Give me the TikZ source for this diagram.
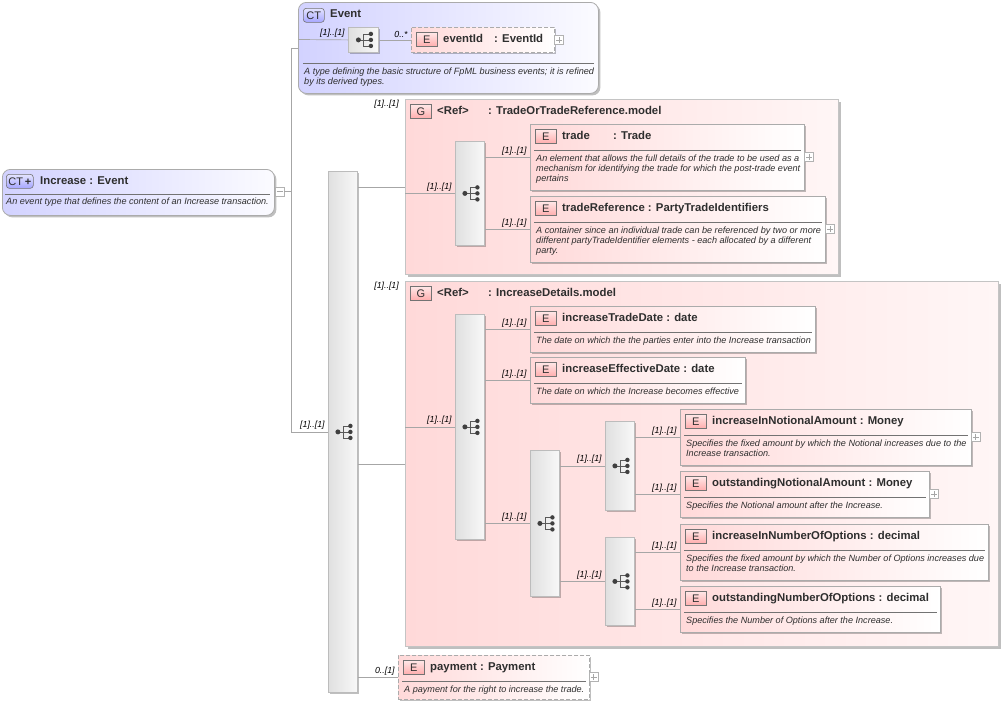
\documentclass[tikz,border=0pt]{standalone}
\usepackage{fontspec}
\setmainfont{Liberation Sans}
\usetikzlibrary{shadows}

\definecolor{boxline}{HTML}{ABABAB}
\definecolor{connline}{HTML}{A6A6A6}
\definecolor{pinkL}{HTML}{FFD9D9}
\definecolor{groupR}{HTML}{FFF6F6}
\definecolor{ctL}{HTML}{D2D2FF}
\definecolor{ctR}{HTML}{FBFBFF}
\definecolor{seqL}{HTML}{E0E0E0}
\definecolor{seqR}{HTML}{F8F8F8}
\definecolor{inktext}{HTML}{2E2E2E}

\tikzset{
  boxshadow/.style={drop shadow={shadow xshift=2pt, shadow yshift=-2pt, fill=black, opacity=.25}},
  boxbase/.style={draw=boxline, line width=.8pt, inner sep=0pt, anchor=north west, boxshadow},
  elemfill/.style={boxbase, left color=pinkL, right color=white},
  elemdash/.style={elemfill, dashed, dash pattern=on 4pt off 2pt},
  groupbox/.style={boxbase, draw=boxline!70, line width=1.2pt, left color=pinkL, right color=groupR},
  ctbox/.style={boxbase, rounded corners=8pt, left color=ctL, right color=ctR},
  seqbox/.style={boxbase, draw=boxline!80, left color=seqL, right color=seqR},
  badge/.style={draw=black!55, line width=.6pt, inner sep=0pt, anchor=north west, minimum width=21pt,
    minimum height=14pt, top color=pinkL!60, bottom color=red!32!white, text=inktext,
    font=\fontsize{11}{12}\selectfont},
  ctbadge/.style={badge, rounded corners=3pt, top color=ctL!60, bottom color=blue!35!white},
  title/.style={anchor=base west, inner sep=0pt, text=inktext, font=\bfseries\fontsize{11.35}{13}\selectfont},
  desc/.style={anchor=north west, inner sep=0pt, align=left, text=inktext, font=\itshape\fontsize{9.1}{10}\selectfont},
  occ/.style={anchor=south east, inner sep=0pt, xshift=-3pt, yshift=2pt, font=\itshape\fontsize{8.8}{10}\selectfont},
  conn/.style={draw=connline, line width=.7pt},
  sep/.style={draw=black!55, line width=.5pt},
  togglebox/.style={draw=black!30, line width=.5pt, fill=white, inner sep=0pt, minimum size=9pt},
  plusbox/.style={togglebox, path picture={
    \draw[black!35, line width=.6pt] ([xshift=-3pt]path picture bounding box.center) -- ([xshift=3pt]path picture bounding box.center);
    \draw[black!35, line width=.6pt] ([yshift=-3pt]path picture bounding box.center) -- ([yshift=3pt]path picture bounding box.center);}},
  minusbox/.style={togglebox, path picture={
    \draw[black!35, line width=.6pt] ([xshift=-3pt]path picture bounding box.center) -- ([xshift=3pt]path picture bounding box.center);}},
  seqicon/.pic={
    \draw[black!65, line width=.8pt] (-5,0) -- (7.5,0) (7.5,-6) -- (0,-6) -- (0,6) -- (7.5,6);
    \fill[black!75] (-5,0) circle (2.5pt) (7.5,-6) circle (2.2pt) (7.5,0) circle (2.2pt) (7.5,6) circle (2.2pt);
  },
}

% element box with badge, title, rule and text
\newcommand{\elembox}[7][elemfill]{
  \node[#1, minimum width=#4pt, minimum height=#5pt] (#2) at (#3) {};
  \node[badge] (#2-b) at ([shift={(5,5)}]#2.north west) {E};
  \node[title] (#2-t) at ([shift={(32,15)}]#2.north west) {#6};
  \draw[sep] ([shift={(4,26)}]#2.north west) -- ([shift={(-4,26)}]#2.north east);
  \node[desc] (#2-d) at ([shift={(6,30.5)}]#2.north west) {#7};
}
\newcommand{\seqnode}[4]{
  \node[seqbox, minimum width=#3pt, minimum height=#4pt] (#1) at (#2) {};
  \pic at (#1.center) {seqicon};
}
% horizontal connector into the middle of #2, label at its end
\newcommand{\conn}[3]{
  \draw[conn] (#1.east |- #2.west) -- (#2.west) node[occ] (#2-o) {#3};
}

\begin{document}
\begin{tikzpicture}[x=1pt, y=-1pt]
   \useasboundingbox (0,0) rectangle (1003,705);

   % root type
   \node[ctbox, minimum width=272pt, minimum height=46pt] (increase) at (2,169) {};
   \node[ctbadge, minimum width=27pt] (increase-b) at (6,174) {CT\,\textbf{+}};
   \node[title] (increase-t) at (40,184) {Increase : Event};
   \draw[sep] (5,194.5) -- (270,194.5);
   \node[desc] (increase-d) at (6,198) {An event type that defines the content of an Increase transaction.};
   \node[minusbox] (toggle) at (279.5,191.5) {};

   % base type
   \node[ctbox, minimum width=300pt, minimum height=91pt] (event) at (298,2) {};
   \node[ctbadge] (event-b) at (303,8) {CT};
   \node[title] (event-t) at (330,17) {Event};
   \seqnode{eventseq}{348,27}{30}{25}
   \node[elemdash, minimum width=143pt, minimum height=25pt] (eventid) at (411,27) {};
   \node[badge] (eventid-b) at (416,32) {E};
   \node[title] (eventid-t) at (443,42) {\makebox[51pt][l]{eventId}: EventId};
   \node[plusbox] (eventid-p) at (559,40) {};
   \draw[sep] (303,63) -- (594,63);
   \node[desc] (event-d) at (304,67.5) {A type defining the basic structure of FpML business events; it is refined\\by its derived types.};
   \coordinate (eventin) at (298,39.5);
   \draw[conn] (eventin) -- (eventseq.west) node[occ] (eventseq-o) {[1]..[1]};
   \conn{eventseq}{eventid}{0..*}

   % main sequence
   \seqnode{mainseq}{328,171}{29}{521}
   \coordinate (trunk) at (291,191.5);
   \draw[conn] (toggle) -- (trunk);
   \draw[conn] (event.west -| trunk) -- (mainseq.west -| trunk);
   \draw[conn] (event.west -| trunk) -- (event.west);
   \draw[conn] (mainseq.west -| trunk) -- (mainseq.west) node[occ] (mainseq-o) {[1]..[1]};

   % first group
   \node[groupbox, minimum width=433pt, minimum height=175pt] (tradegroup) at (405,99) {};
   \node[occ, xshift=0pt, yshift=0pt] (tradegroup-o) at (402,110.5) {[1]..[1]};
   \node[badge] (tradegroup-b) at (410,104) {G};
   \node[title] (tradegroup-t) at (437,114) {\makebox[51pt][l]{<Ref>}: TradeOrTradeReference.model};
   \draw[conn] (mainseq.east |- tradegroup.west) -- (tradegroup.west);
   \seqnode{tradeseq}{455,141}{29}{104}
   \draw[conn] (tradegroup.west |- tradeseq.west) -- (tradeseq.west) node[occ] (tradeseq-o) {[1]..[1]};
   \elembox{trade}{530,124}{274}{66}{\makebox[51pt][l]{trade}: Trade}{An element that allows the full details of the trade to be used as a\\mechanism for identifying the trade for which the post-trade event\\pertains}
   \elembox{traderef}{530,196}{295}{66}{tradeReference : PartyTradeIdentifiers}{A container since an individual trade can be referenced by two or more\\different partyTradeIdentifier elements - each allocated by a different\\party.}
   \node[plusbox] (trade-p) at (809,157) {};
   \node[plusbox] (traderef-p) at (830,229) {};
   \conn{tradeseq}{trade}{[1]..[1]}
   \conn{tradeseq}{traderef}{[1]..[1]}

   % second group
   \node[groupbox, minimum width=593pt, minimum height=365pt] (detailgroup) at (405,281) {};
   \node[occ, xshift=0pt, yshift=0pt] (detailgroup-o) at (402,292.5) {[1]..[1]};
   \node[badge] (detailgroup-b) at (410,286) {G};
   \node[title] (detailgroup-t) at (437,296) {\makebox[51pt][l]{<Ref>}: IncreaseDetails.model};
   \draw[conn] (mainseq.east |- detailgroup.west) -- (detailgroup.west);
   \seqnode{detailseq}{455,314}{29}{225}
   \draw[conn] (detailgroup.west |- detailseq.west) -- (detailseq.west) node[occ] (detailseq-o) {[1]..[1]};
   \elembox{tradedate}{530,306}{285}{46}{increaseTradeDate : date}{The date on which the the parties enter into the Increase transaction}
   \elembox{effdate}{530,357}{215}{46}{increaseEffectiveDate : date}{The date on which the Increase becomes effective}
   \conn{detailseq}{tradedate}{[1]..[1]}
   \conn{detailseq}{effdate}{[1]..[1]}
   \seqnode{amountseq}{530,450}{29}{146}
   \conn{detailseq}{amountseq}{[1]..[1]}
   \seqnode{notionalseq}{605,421}{29}{89}
   \seqnode{optionseq}{605,537}{29}{88}
   \conn{amountseq}{notionalseq}{[1]..[1]}
   \conn{amountseq}{optionseq}{[1]..[1]}
   \elembox{incnotional}{680,409}{291}{56}{increaseInNotionalAmount : Money}{Specifies the fixed amount by which the Notional increases due to the\\Increase transaction.}
   \elembox{outnotional}{680,471}{249}{46}{outstandingNotionalAmount : Money}{Specifies the Notional amount after the Increase.}
   \elembox{incoptions}{680,524}{308}{56}{increaseInNumberOfOptions : decimal}{Specifies the fixed amount by which the Number of Options increases due\\to the Increase transaction.}
   \elembox{outoptions}{680,586}{260}{46}{outstandingNumberOfOptions : decimal}{Specifies the Number of Options after the Increase.}
   \node[plusbox] (incnotional-p) at (975.5,437) {};
   \node[plusbox] (outnotional-p) at (934,494) {};
   \conn{notionalseq}{incnotional}{[1]..[1]}
   \conn{notionalseq}{outnotional}{[1]..[1]}
   \conn{optionseq}{incoptions}{[1]..[1]}
   \conn{optionseq}{outoptions}{[1]..[1]}

   % payment
   \elembox[elemdash]{payment}{398,655}{191}{44}{payment : Payment}{A payment for the right to increase the trade.}
   \node[plusbox] (payment-p) at (593.5,677) {};
   \conn{mainseq}{payment}{0..[1]}
\end{tikzpicture}
\end{document}
